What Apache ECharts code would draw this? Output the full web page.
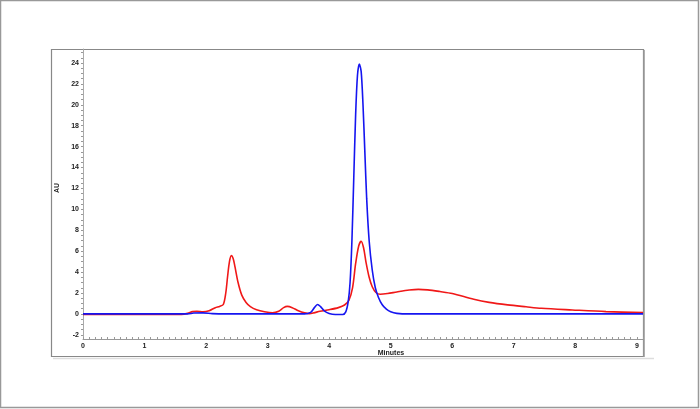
<!DOCTYPE html>
<html>
<head>
<meta charset="utf-8">
<script src="https://cdn.jsdelivr.net/npm/echarts@6/dist/echarts.min.js"></script>
<style>html,body{margin:0;padding:0;background:#fff}#c{width:700px;height:409px}</style>
</head>
<body>
<div id="c"></div>
<script>
// Data (minutes, AU)
const blueX = [0,1.0,1.7,1.8,1.95,2.1,2.3,3.6,3.7,3.76,3.81,3.86,3.92,4.0,4.1,4.22,4.27,4.31,4.34,4.37,4.40,4.43,4.46,4.49,4.52,4.55,4.58,4.61,4.65,4.70,4.75,4.80,4.86,4.93,5.0,5.1,5.3,9.1];
const blueY = [0,0,0,0.08,0.1,0.03,0,0,0.15,0.6,0.9,0.7,0.3,0.05,-0.05,-0.05,0.2,1.2,3.0,7,13,19,22.8,23.9,23.2,20,15.5,11,7,4.2,2.5,1.6,0.9,0.45,0.2,0.05,0,0];
const redX = [0,1.6,1.7,1.78,1.85,1.95,2.05,2.15,2.22,2.28,2.32,2.35,2.38,2.41,2.44,2.47,2.52,2.58,2.65,2.72,2.82,2.95,3.08,3.18,3.26,3.32,3.40,3.50,3.60,3.68,3.75,3.85,4.0,4.15,4.25,4.32,4.38,4.43,4.48,4.52,4.56,4.60,4.65,4.70,4.76,4.83,4.95,5.1,5.3,5.45,5.6,5.8,6.0,6.35,6.6,6.9,7.2,7.45,7.95,8.5,9.1];
const redY = [-0.05,-0.05,0.05,0.22,0.25,0.2,0.3,0.6,0.72,0.9,2.0,3.6,5.0,5.58,5.3,4.5,3.0,1.8,1.1,0.7,0.4,0.2,0.1,0.25,0.6,0.72,0.6,0.3,0.1,0.03,0.1,0.25,0.4,0.6,0.85,1.3,2.5,4.8,6.5,6.95,6.3,4.9,3.5,2.6,2.05,1.88,1.95,2.1,2.28,2.35,2.3,2.14,1.95,1.4,1.1,0.86,0.68,0.54,0.38,0.22,0.12];
const xTickLabels = [0,1,2,3,4,5,6,7,8,9];
const yTickLabels = [-2,0,2,4,6,8,10,12,14,16,18,20,22,24];

const zip = (xs, ys) => xs.map((x, i) => [x, ys[i]]);
const xMinor = []; for (let i = 0; i <= 91; i++) xMinor.push(+(i * 0.1).toFixed(2));
const yMinor = []; for (let i = -4; i <= 50; i++) yMinor.push(i * 0.5);

const chart = echarts.init(document.getElementById('c'), null, {renderer: 'canvas'});
const labelFont = {fontFamily: 'Liberation Sans, Arial, sans-serif', fontSize: 7, fontWeight: 'bold', color: '#222'};
chart.setOption({
  animation: false,
  backgroundColor: '#fff',
  grid: {left: 83, top: 49, right: 57, bottom: 70, containLabel: false},
  xAxis: {
    type: 'value', min: 0, max: 9.1,
    axisLine: {show: true, onZero: false, lineStyle: {color: '#999', width: 1}},
    axisTick: {show: true, inside: true, length: 2, customValues: xMinor, lineStyle: {color: '#999'}},
    axisLabel: Object.assign({customValues: xTickLabels, margin: 4}, labelFont),
    splitLine: {show: false}
  },
  yAxis: {
    type: 'value', min: -2.4, max: 25.34,
    axisLine: {show: true, onZero: false, lineStyle: {color: '#aaa', width: 1}},
    axisTick: {show: true, inside: false, length: 2, customValues: yMinor, lineStyle: {color: '#999'}},
    axisLabel: Object.assign({customValues: yTickLabels, margin: 4}, labelFont),
    splitLine: {show: false}
  },
  series: [
    {type: 'line', data: zip(redX, redY), showSymbol: false, smooth: 0.3,
     lineStyle: {color: '#f01818', width: 1.6}, z: 2},
    {type: 'line', data: zip(blueX, blueY), showSymbol: false, smooth: 0.3,
     lineStyle: {color: '#1515f0', width: 1.6}, z: 3}
  ],
  graphic: [
    {type: 'rect', shape: {x: 0.5, y: 0.5, width: 698, height: 407}, style: {fill: null, stroke: '#999', lineWidth: 1.5}, silent: true},
    {type: 'line', shape: {x1: 53, y1: 358.5, x2: 654, y2: 358.5}, style: {stroke: '#ddd', lineWidth: 1.5}, silent: true},
    {type: 'rect', shape: {x: 51.5, y: 49.5, width: 592, height: 307}, style: {fill: null, stroke: '#888', lineWidth: 1.2}, silent: true},
    {type: 'line', shape: {x1: 644, y1: 50, x2: 644, y2: 357}, style: {stroke: '#999', lineWidth: 1.5}, silent: true},
    {type: 'text', x: 57, y: 188, rotation: Math.PI / 2,
     style: {text: 'AU', font: 'bold 7px Liberation Sans, Arial, sans-serif', fill: '#222', textAlign: 'center', textVerticalAlign: 'middle'}},
    {type: 'text', x: 391, y: 353,
     style: {text: 'Minutes', font: 'bold 7px Liberation Sans, Arial, sans-serif', fill: '#222', textAlign: 'center', textVerticalAlign: 'middle'}}
  ]
});
</script>
</body>
</html>
